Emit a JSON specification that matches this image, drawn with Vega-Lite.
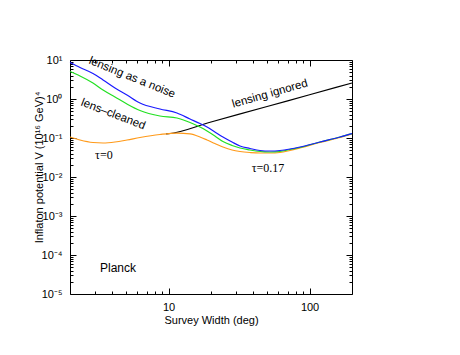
{
  "$schema": "https://vega.github.io/schema/vega-lite/v6.json",
  "width": 282,
  "height": 234,
  "autosize": {"type": "none"},
  "padding": {"left": 70, "top": 60, "right": 108, "bottom": 61},
  "background": "white",
  "config": {
    "view": {"stroke": "black", "strokeWidth": 1},
    "axis": {
      "labelFont": "Liberation Sans", "titleFont": "Liberation Sans",
      "labelFontSize": 11, "titleFontSize": 11, "titleFontWeight": "normal",
      "labelColor": "black", "titleColor": "black", "tickColor": "black",
      "domain": false, "grid": false
    }
  },
  "datasets": {
    "curves": [
      {"s": "ignored", "x": 9.6, "y": 0.127},
      {"s": "ignored", "x": 10, "y": 0.1285},
      {"s": "ignored", "x": 20, "y": 0.257},
      {"s": "ignored", "x": 50, "y": 0.643},
      {"s": "ignored", "x": 100, "y": 1.285},
      {"s": "ignored", "x": 200, "y": 2.57},

      {"s": "reion", "x": 2.0, "y": 0.106},
      {"s": "reion", "x": 2.355, "y": 0.0889},
      {"s": "reion", "x": 2.91, "y": 0.0767},
      {"s": "reion", "x": 3.43, "y": 0.0745},
      {"s": "reion", "x": 4.17, "y": 0.0789},
      {"s": "reion", "x": 5.07, "y": 0.0889},
      {"s": "reion", "x": 6.27, "y": 0.103},
      {"s": "reion", "x": 8.69, "y": 0.123},
      {"s": "reion", "x": 11.47, "y": 0.134},
      {"s": "reion", "x": 14.2, "y": 0.127},
      {"s": "reion", "x": 16.7, "y": 0.106},
      {"s": "reion", "x": 18.75, "y": 0.0889},
      {"s": "reion", "x": 21.3, "y": 0.0723},
      {"s": "reion", "x": 24.3, "y": 0.0588},
      {"s": "reion", "x": 28.2, "y": 0.0492},
      {"s": "reion", "x": 32.1, "y": 0.0451},
      {"s": "reion", "x": 37.8, "y": 0.0425},
      {"s": "reion", "x": 44.5, "y": 0.0412},
      {"s": "reion", "x": 52.4, "y": 0.0412},
      {"s": "reion", "x": 61.7, "y": 0.0425},
      {"s": "reion", "x": 72.6, "y": 0.0478},
      {"s": "reion", "x": 85.5, "y": 0.0554},
      {"s": "reion", "x": 118.5, "y": 0.0767},
      {"s": "reion", "x": 164.4, "y": 0.103},
      {"s": "reion", "x": 200, "y": 0.127},

      {"s": "cleaned", "x": 2.0, "y": 5.07},
      {"s": "cleaned", "x": 2.355, "y": 3.89},
      {"s": "cleaned", "x": 2.91, "y": 2.57},
      {"s": "cleaned", "x": 3.43, "y": 1.70},
      {"s": "cleaned", "x": 4.17, "y": 1.125},
      {"s": "cleaned", "x": 5.07, "y": 0.745},
      {"s": "cleaned", "x": 6.27, "y": 0.507},
      {"s": "cleaned", "x": 8.69, "y": 0.367},
      {"s": "cleaned", "x": 11.47, "y": 0.326},
      {"s": "cleaned", "x": 14.2, "y": 0.250},
      {"s": "cleaned", "x": 16.7, "y": 0.191},
      {"s": "cleaned", "x": 18.75, "y": 0.151},
      {"s": "cleaned", "x": 21.3, "y": 0.1125},
      {"s": "cleaned", "x": 24.3, "y": 0.0813},
      {"s": "cleaned", "x": 28.2, "y": 0.0643},
      {"s": "cleaned", "x": 32.1, "y": 0.0554},
      {"s": "cleaned", "x": 37.8, "y": 0.0492},
      {"s": "cleaned", "x": 44.5, "y": 0.0451},
      {"s": "cleaned", "x": 52.4, "y": 0.0438},
      {"s": "cleaned", "x": 61.7, "y": 0.0451},
      {"s": "cleaned", "x": 72.6, "y": 0.0507},
      {"s": "cleaned", "x": 85.5, "y": 0.0571},
      {"s": "cleaned", "x": 118.5, "y": 0.0789},
      {"s": "cleaned", "x": 164.4, "y": 0.106},
      {"s": "cleaned", "x": 200, "y": 0.130},

      {"s": "noise", "x": 2.0, "y": 8.63},
      {"s": "noise", "x": 2.355, "y": 6.42},
      {"s": "noise", "x": 2.91, "y": 4.51},
      {"s": "noise", "x": 3.43, "y": 3.07},
      {"s": "noise", "x": 4.17, "y": 1.91},
      {"s": "noise", "x": 5.07, "y": 1.27},
      {"s": "noise", "x": 6.27, "y": 0.789},
      {"s": "noise", "x": 8.69, "y": 0.554},
      {"s": "noise", "x": 11.47, "y": 0.438},
      {"s": "noise", "x": 14.2, "y": 0.307},
      {"s": "noise", "x": 16.7, "y": 0.235},
      {"s": "noise", "x": 18.75, "y": 0.191},
      {"s": "noise", "x": 21.3, "y": 0.143},
      {"s": "noise", "x": 24.3, "y": 0.106},
      {"s": "noise", "x": 28.2, "y": 0.0789},
      {"s": "noise", "x": 32.1, "y": 0.0623},
      {"s": "noise", "x": 37.8, "y": 0.0538},
      {"s": "noise", "x": 44.5, "y": 0.0478},
      {"s": "noise", "x": 52.4, "y": 0.0464},
      {"s": "noise", "x": 61.7, "y": 0.0478},
      {"s": "noise", "x": 72.6, "y": 0.0522},
      {"s": "noise", "x": 85.5, "y": 0.0588},
      {"s": "noise", "x": 118.5, "y": 0.0789},
      {"s": "noise", "x": 164.4, "y": 0.106},
      {"s": "noise", "x": 200, "y": 0.130}
    ],
    "labels": [
      {"t": "lensing as a noise", "x": 5.5, "y": 3.5},
      {"t": "lens–cleaned", "x": 4.04, "y": 0.40},
      {"t": "lensing ignored", "x": 52.4, "y": 1.34},
      {"t": "Planck", "x": 4.38, "y": 0.0000464},
      {"t": "τ=0", "x": 3.48, "y": 0.0366},
      {"t": "τ=0.17", "x": 50.7, "y": 0.0170}
    ]
  },
  "resolve": {"axis": {"x": "independent", "y": "independent"}},
  "layer": [
    {
      "data": {"name": "curves"},
      "transform": [{"filter": "datum.s == 'ignored'"}],
      "mark": {"type": "line", "color": "black", "strokeWidth": 1.2, "interpolate": "monotone"},
      "encoding": {
        "x": {"field": "x", "type": "quantitative",
          "scale": {"type": "log", "domain": [2, 200], "nice": false},
          "axis": {"orient": "bottom", "values": [10, 100], "tickSize": -6, "labelPadding": 13, "format": "d", "title": "Survey Width (deg)", "titlePadding": 2}},
        "y": {"field": "y", "type": "quantitative",
          "scale": {"type": "log", "domain": [0.00001, 10], "nice": false},
          "axis": {"orient": "left", "values": [0.00001, 0.0001, 0.001, 0.01, 0.1, 1, 10], "tickSize": -6, "labelPadding": 14,
            "labelExpr": "'10' + ['⁻⁵','⁻⁴','⁻³','⁻²','⁻¹','⁰','¹'][round(log(datum.value)/LN10)+5]",
            "title": "Inflaton potential V (10¹⁶ GeV)⁴", "titleX": -26, "titleY": 107}}
      }
    },
    {
      "data": {"name": "curves"},
      "transform": [{"filter": "datum.s == 'reion'"}],
      "mark": {"type": "line", "color": "#ff9a1a", "strokeWidth": 1.2, "interpolate": "monotone"},
      "encoding": {
        "x": {"field": "x", "type": "quantitative",
          "axis": {"orient": "bottom", "values": [3, 4, 5, 6, 7, 8, 9, 20, 30, 40, 50, 60, 70, 80, 90], "tickSize": -3, "labels": false, "title": null}},
        "y": {"field": "y", "type": "quantitative",
          "axis": {"orient": "left", "values": [0.00002,0.00003,0.00004,0.00005,0.00006,0.00007,0.00008,0.00009,0.0002,0.0003,0.0004,0.0005,0.0006,0.0007,0.0008,0.0009,0.002,0.003,0.004,0.005,0.006,0.007,0.008,0.009,0.02,0.03,0.04,0.05,0.06,0.07,0.08,0.09,0.2,0.3,0.4,0.5,0.6,0.7,0.8,0.9,2,3,4,5,6,7,8,9], "tickSize": -3, "labels": false, "title": null}}
      }
    },
    {
      "data": {"name": "curves"},
      "transform": [{"filter": "datum.s == 'cleaned'"}],
      "mark": {"type": "line", "color": "#22e022", "strokeWidth": 1.2, "interpolate": "monotone"},
      "encoding": {
        "x": {"field": "x", "type": "quantitative",
          "axis": {"orient": "top", "values": [10, 100], "tickSize": -6, "labels": false, "title": null}},
        "y": {"field": "y", "type": "quantitative",
          "axis": {"orient": "right", "values": [0.00001, 0.0001, 0.001, 0.01, 0.1, 1, 10], "tickSize": -6, "labels": false, "title": null}}
      }
    },
    {
      "data": {"name": "curves"},
      "transform": [{"filter": "datum.s == 'noise'"}],
      "mark": {"type": "line", "color": "#1a1aff", "strokeWidth": 1.2, "interpolate": "monotone"},
      "encoding": {
        "x": {"field": "x", "type": "quantitative",
          "axis": {"orient": "top", "values": [3, 4, 5, 6, 7, 8, 9, 20, 30, 40, 50, 60, 70, 80, 90], "tickSize": -3, "labels": false, "title": null}},
        "y": {"field": "y", "type": "quantitative",
          "axis": {"orient": "right", "values": [0.00002,0.00003,0.00004,0.00005,0.00006,0.00007,0.00008,0.00009,0.0002,0.0003,0.0004,0.0005,0.0006,0.0007,0.0008,0.0009,0.002,0.003,0.004,0.005,0.006,0.007,0.008,0.009,0.02,0.03,0.04,0.05,0.06,0.07,0.08,0.09,0.2,0.3,0.4,0.5,0.6,0.7,0.8,0.9,2,3,4,5,6,7,8,9], "tickSize": -3, "labels": false, "title": null}}
      }
    },
    {
      "data": {"name": "labels"},
      "transform": [{"filter": "datum.t == 'lensing as a noise'"}],
      "mark": {"type": "text", "font": "Liberation Sans", "fontSize": 11.5, "angle": 22, "color": "black"},
      "encoding": {"x": {"field": "x", "type": "quantitative", "axis": null}, "y": {"field": "y", "type": "quantitative", "axis": null}, "text": {"field": "t"}}
    },
    {
      "data": {"name": "labels"},
      "transform": [{"filter": "datum.t == 'lens–cleaned'"}],
      "mark": {"type": "text", "font": "Liberation Sans", "fontSize": 11.5, "angle": 21, "color": "black"},
      "encoding": {"x": {"field": "x", "type": "quantitative", "axis": null}, "y": {"field": "y", "type": "quantitative", "axis": null}, "text": {"field": "t"}}
    },
    {
      "data": {"name": "labels"},
      "transform": [{"filter": "datum.t == 'lensing ignored'"}],
      "mark": {"type": "text", "font": "Liberation Sans", "fontSize": 11.5, "angle": -16, "color": "black"},
      "encoding": {"x": {"field": "x", "type": "quantitative", "axis": null}, "y": {"field": "y", "type": "quantitative", "axis": null}, "text": {"field": "t"}}
    },
    {
      "data": {"name": "labels"},
      "transform": [{"filter": "datum.t == 'Planck'"}],
      "mark": {"type": "text", "font": "Liberation Sans", "fontSize": 12, "color": "black"},
      "encoding": {"x": {"field": "x", "type": "quantitative", "axis": null}, "y": {"field": "y", "type": "quantitative", "axis": null}, "text": {"field": "t"}}
    },
    {
      "data": {"name": "labels"},
      "transform": [{"filter": "indexof(datum.t, 'τ') == 0"}],
      "mark": {"type": "text", "font": "Liberation Serif", "fontSize": 12, "color": "black"},
      "encoding": {"x": {"field": "x", "type": "quantitative", "axis": null}, "y": {"field": "y", "type": "quantitative", "axis": null}, "text": {"field": "t"}}
    }
  ]
}
